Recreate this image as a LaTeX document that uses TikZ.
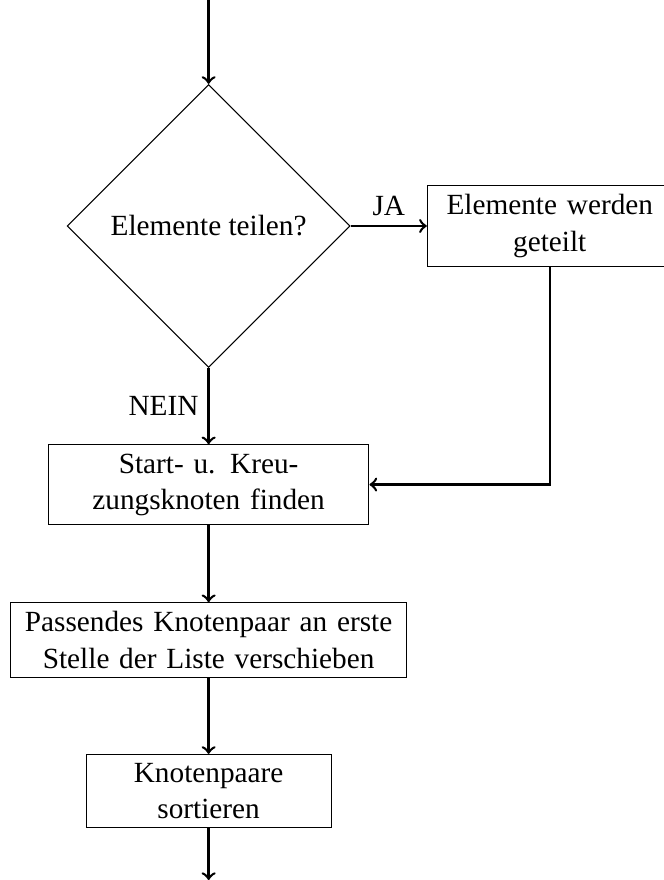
\documentclass[tikz,border=0pt]{standalone}
\usepackage{fontspec}
\setmainfont{Liberation Serif}
\usetikzlibrary{shapes.geometric}
\tikzset{
  txt/.style={font=\fontsize{11pt}{13.6pt}\selectfont},
  proc/.style={txt, draw, rectangle, align=center, inner sep=3.333pt, line width=0.4pt},
  decision/.style={txt, draw, diamond, aspect=1, minimum width=106.4pt, minimum height=106.4pt, inner sep=0pt, line width=0.4pt},
  conn/.style={->, line width=0.95pt}
}
\begin{document}
\begin{tikzpicture}
\useasboundingbox (0pt,0pt) rectangle (249.15pt,-330.7pt);
\coordinate (start) at (78.4pt,0pt);
\coordinate (stop) at (78.4pt,-330.7pt);
\node[decision] (dec) at (78.4pt,-84.93pt) {Elemente teilen?};
\node[proc, text width=3cm] (b1) at (206.6pt,-84.93pt) {Elemente werden\\geteilt};
\node[proc, text width=4cm] (b2) at (78.4pt,-182.1pt) {Start- u. Kreu-\\zungsknoten finden};
\node[proc, text width=5cm] (b3) at (78.4pt,-240.5pt) {Passendes Knotenpaar an erste\\Stelle der Liste verschieben};
\node[proc, text width=3cm] (b4) at (78.4pt,-297.3pt) {Knotenpaare\\sortieren};
\draw[conn] (start) -- (dec);
\draw[conn] (dec) -- node[txt, above] (ja) {JA} (b1);
\draw[conn] (dec) -- node[txt, left] (nein) {NEIN} (b2);
\draw[conn] (b1) |- (b2);
\draw[conn] (b2) -- (b3);
\draw[conn] (b3) -- (b4);
\draw[conn] (b4) -- (stop);
\end{tikzpicture}
\end{document}
